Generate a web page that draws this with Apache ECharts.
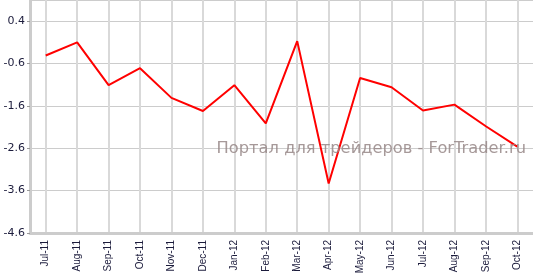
<!DOCTYPE html>
<html><head><meta charset="utf-8">
<script src="https://cdn.jsdelivr.net/npm/echarts@6/dist/echarts.min.js"></script>
<style>html,body{margin:0;padding:0;background:#fff}#c{width:533px;height:277px}</style>
</head><body><div id="c"></div>
<script>
var categories = ['Jul-11','Aug-11','Sep-11','Oct-11','Nov-11','Dec-11','Jan-12','Feb-12','Mar-12','Apr-12','May-12','Jun-12','Jul-12','Aug-12','Sep-12','Oct-12'];
var values = [-0.41,-0.10,-1.11,-0.71,-1.41,-1.72,-1.11,-2.01,-0.07,-3.43,-0.94,-1.16,-1.71,-1.57,-2.08,-2.56];
var yMin = -4.6, yMax = 0.9, yStep = 1;
var watermark = 'Портал для трейдеров - ForTrader.ru';

var chart = echarts.init(document.getElementById('c'), null, {renderer:'canvas'});
chart.setOption({
  animation:false,
  grid:{left:30, right:-4, top:0, bottom:44},
  xAxis:{type:'category', data:categories, boundaryGap:true,
    axisLine:{onZero:false, lineStyle:{color:'#cccccc', width:3}},
    axisTick:{alignWithLabel:true, length:4, lineStyle:{color:'#999'}},
    axisLabel:{rotate:90, fontSize:10, color:'#1c1c3c', fontFamily:'Liberation Sans', margin:7},
    splitLine:{show:true, alignWithLabel:true, lineStyle:{color:'#d9d9d9', width:2}}},
  yAxis:{type:'value', min:yMin, max:yMax, interval:yStep,
    axisLine:{show:true, lineStyle:{color:'#cccccc', width:3}},
    axisTick:{show:true, length:3, lineStyle:{color:'#999'}},
    axisLabel:{showMaxLabel:false, fontSize:11, color:'#1c1c3c', fontFamily:'DejaVu Sans', margin:5,
      formatter:function(v){return v.toFixed(1);}},
    splitLine:{show:true, lineStyle:{color:'#cccccc', width:1}}},
  graphic:[{type:'text', z:100, right:7, top:141, style:{text:watermark, fill:'rgba(150,135,135,0.85)', font:'16.3px DejaVu Sans'}}],
  series:[{type:'line', data:values, symbol:'none', lineStyle:{color:'#ff0000', width:2}}]
});
</script></body></html>
